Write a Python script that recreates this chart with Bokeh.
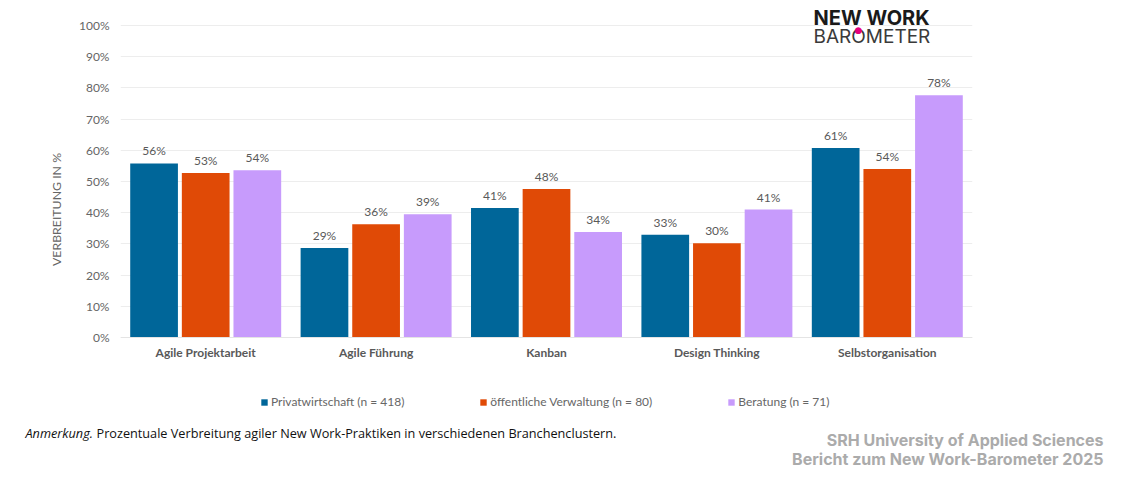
from bokeh.plotting import figure
from bokeh.core.properties import value
from bokeh.layouts import column
from bokeh.models import ColumnDataSource, Label, Legend, LegendItem, LabelSet, FactorRange, Range1d, PrintfTickFormatter, FixedTicker
from bokeh.transform import dodge
from bokeh.embed import file_html
from bokeh.resources import INLINE

categories = ["Agile Projektarbeit", "Agile Führung", "Kanban", "Design Thinking", "Selbstorganisation"]
privat = [55.8, 28.7, 41.5, 32.9, 60.7]
oeffentlich = [52.7, 36.3, 47.6, 30.2, 54.0]
beratung = [53.6, 39.5, 33.8, 41.0, 77.6]
privat_labels = ["56%", "29%", "41%", "33%", "61%"]
oeffentlich_labels = ["53%", "36%", "48%", "30%", "54%"]
beratung_labels = ["54%", "39%", "34%", "41%", "78%"]
series_names = ["Privatwirtschaft (n = 418)", "öffentliche Verwaltung (n = 80)", "Beratung (n = 71)"]
y_ticks = [0, 10, 20, 30, 40, 50, 60, 70, 80, 90, 100]
colors = ["#006699", "#E04A06", "#C79BFC"]

TXT = "#666666"
FONT = "Lato"

# the frame runs below zero so that the axis title centres where the reference has it
# and the legend row falls inside it; the category axis stays at zero
p = figure(width=1113, height=418, output_backend="svg", toolbar_location=None, frame_align=False,
           x_range=FactorRange(factors=categories, range_padding=0, factor_padding=0),
           y_range=Range1d(-25.96, 108),
           min_border_left=120, min_border_right=141, min_border_top=0, min_border_bottom=0)
p.outline_line_color = None
p.xgrid.grid_line_color = None
p.ygrid.grid_line_color = "#EDEDED"
p.ygrid.ticker = FixedTicker(ticks=y_ticks)

p.yaxis.ticker = FixedTicker(ticks=y_ticks)
p.yaxis.formatter = PrintfTickFormatter(format="%d%%")
p.yaxis.axis_line_color = None
p.yaxis.major_tick_line_color = None
p.yaxis.minor_tick_line_color = None
p.yaxis.major_label_text_font = FONT
p.yaxis.major_label_text_font_size = "12px"
p.yaxis.major_label_text_color = TXT
p.yaxis.major_label_standoff = 5
p.yaxis.axis_label = "VERBREITUNG IN %"
p.yaxis.axis_label_text_font = FONT
p.yaxis.axis_label_text_font_style = "normal"
p.yaxis.axis_label_text_font_size = "12.3px"
p.yaxis.axis_label_text_color = TXT
p.yaxis.axis_label_standoff = 12

p.xaxis.fixed_location = 0
p.xaxis.axis_line_color = "#E4E4E4"
p.xaxis.major_tick_line_color = None
p.xaxis.minor_tick_line_color = None
p.xaxis.major_label_text_font = FONT
p.xaxis.major_label_text_font_style = "bold"
p.xaxis.major_label_text_font_size = "12px"
p.xaxis.major_label_text_color = "#595959"
p.xaxis.major_label_standoff = 2

src = ColumnDataSource(dict(cat=categories, a=privat, b=oeffentlich, c=beratung,
                            la=privat_labels, lb=oeffentlich_labels, lc=beratung_labels))
items = []
for col, lab, off, color, name in zip("abc", ["la", "lb", "lc"], [-0.303, 0, 0.303], colors, series_names):
    x = dodge("cat", off, range=p.x_range)
    r = p.vbar(x=x, top=col, width=0.28, source=src, fill_color=color, line_color=None)
    items.append(LegendItem(label=name, renderers=[r]))
    p.add_layout(LabelSet(x=x, y=col, text=lab, source=src, text_align="center", text_baseline="bottom",
                          y_offset=5, text_font=value(FONT), text_font_size="12px", text_color="#595959"))

legend = Legend(items=items, orientation="horizontal", location=(140, 9),
                border_line_color=None, background_fill_alpha=0,
                glyph_width=8, glyph_height=8, label_standoff=3, spacing=75, padding=0, margin=0,
                label_text_font=FONT, label_text_font_size="12px", label_text_color=TXT)
p.add_layout(legend, "center")

# lower strip: caption and footer
q = figure(width=1113, height=61, output_backend="svg", toolbar_location=None, frame_align=False,
           x_range=Range1d(0, 1), y_range=Range1d(0, 1),
           min_border_left=0, min_border_right=0, min_border_top=0, min_border_bottom=0)
q.axis.visible = False
q.grid.visible = False
q.outline_line_color = None

def head(s, px, py, **kw):
    p.add_layout(Label(x=px - 120, y=426 - py, x_units="screen", y_units="screen", text=s,
                       text_baseline="alphabetic", **kw))

def foot(s, px, py, **kw):
    q.add_layout(Label(x=px, y=483 - py, x_units="screen", y_units="screen", text=s,
                       text_baseline="alphabetic", **kw))

foot("Anmerkung.", 25, 436, text_font="Open Sans", text_font_size="12.7px", text_font_style="italic", text_color="#111111")
foot("Prozentuale Verbreitung agiler New Work-Praktiken in verschiedenen Branchenclustern.", 96, 436,
     text_font="Open Sans", text_font_size="12.7px", text_color="#111111")
foot("SRH University of Applied Sciences", 1103, 443, text_align="right", text_font="Inter",
     text_font_size="16px", text_font_style="bold", text_color="#ABABAB")
foot("Bericht zum New Work-Barometer 2025", 1103, 462, text_align="right", text_font="Inter",
     text_font_size="16px", text_font_style="bold", text_color="#ABABAB")
head("NEW WORK", 813, 25, text_font="Inter", text_font_size="20px", text_font_style="bold", text_color="#1A1A1A")
head("BAROMETER", 813, 44, text_font="Inter", text_font_size="19px", text_color="#3A3A3A")
head("●", 858, 37, text_align="center", text_font="DejaVu Sans", text_font_size="9px", text_color="#E6007E")

open("out.html", "w").write(file_html(column(p, q, spacing=0), INLINE))
